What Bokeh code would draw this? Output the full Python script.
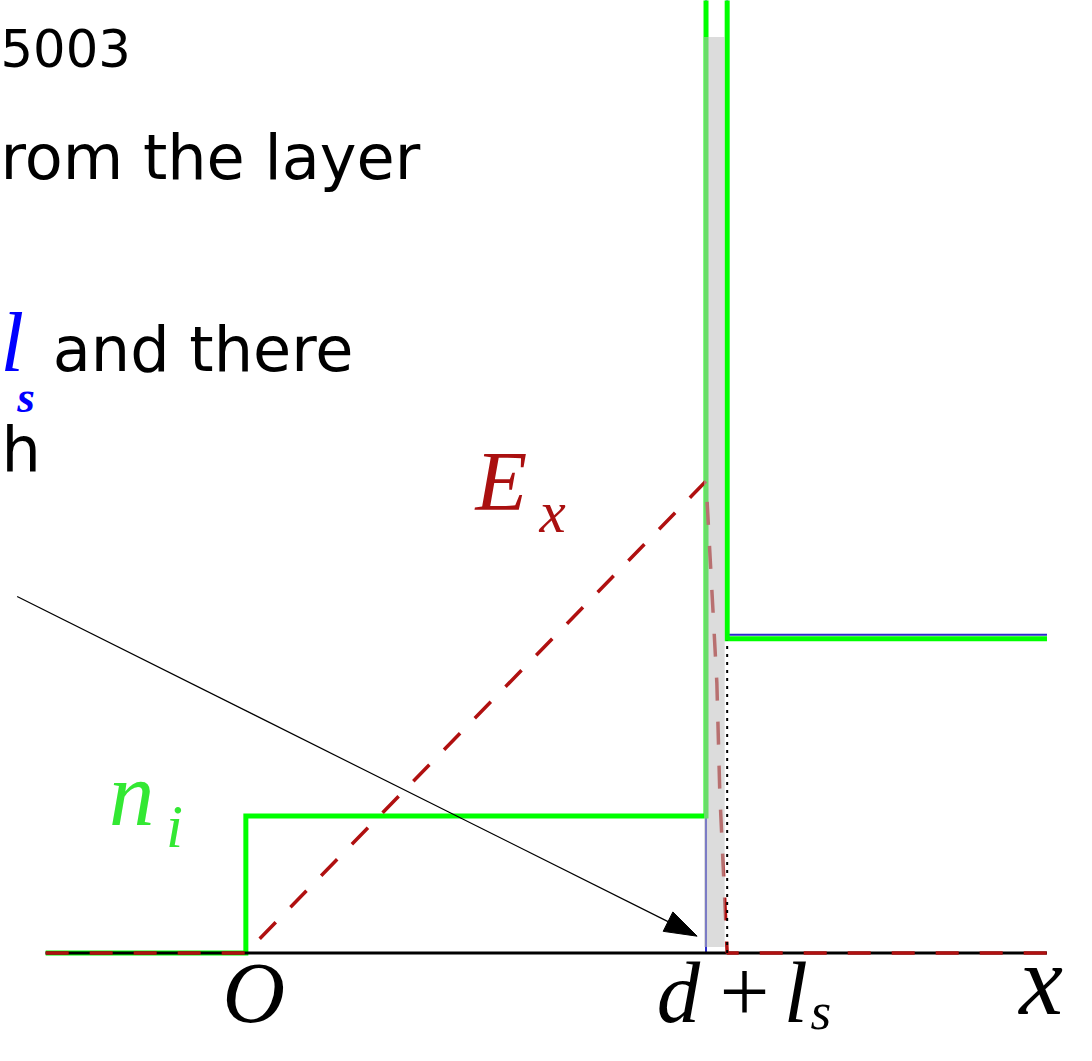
import math
from bokeh.plotting import figure
from bokeh.models import Range1d
from bokeh.core.properties import value
from bokeh.embed import file_html
from bokeh.resources import INLINE

# ---------------- data (normalised units: d = 1, n_i inside layer = 1) ----------------
d = 1.0
l_s = 0.046
x_left = -0.435
x_right = 1.741

# ion density n_i
ni_x = [x_left, 0.0, 0.0, d, d, d + l_s, d + l_s, x_right]
ni_y = [0.0, 0.0, 1.0, 1.0, 7.5, 7.5, 2.295, 2.295]

# electron density n_e
ne_x = [x_left, d, d, d + l_s, d + l_s, x_right]
ne_y = [0.0, 0.0, 7.5, 7.5, 2.324, 2.324]

# electric field E_x
ex_x = [x_left, 0.0, d, 1.0236, 1.030, d + l_s, x_right]
ex_y = [0.0, 0.0, 3.446, 1.97, 1.165, 0.0, 0.0]

# axis line
base_x = [x_left, x_right]
base_y = [0.0, 0.0]

# shaded sheath region
sheath_left = [0.9957]
sheath_right = [1.0407]
sheath_top = [6.69]
sheath_bottom = [0.043]

# dotted marker at d + l_s
dot_x = [d + l_s, d + l_s]
dot_y = [0.0, 2.28]

# arrow (start, end)
arrow_x = [-0.497, 0.9807]
arrow_y = [2.604, 0.1223]

# ---------------- figure ----------------
PX_X = 467.0   # reference pixels per x unit
PX_Y = 139.0   # reference pixels per y unit
X0_PX, Y0_PX = 249.0, 967.0
REF_W, REF_H = 1092.0, 1061.0
W, H = 1076, 1045
SCALE = W / REF_W

def dx(px):
    return (px - X0_PX) / PX_X

def dy(py):
    return (Y0_PX - py) / PX_Y

p = figure(width=W, height=H, output_backend="svg", toolbar_location=None,
           x_axis_location=None, y_axis_location=None, title=None,
           x_range=Range1d(dx(0), dx(REF_W)), y_range=Range1d(dy(REF_H), dy(0)),
           min_border=0)
p.min_border_left = p.min_border_right = p.min_border_top = p.min_border_bottom = 0
p.grid.visible = False
p.outline_line_color = None
p.background_fill_color = "white"
p.border_fill_color = "white"

GREEN = "#00ff00"
BLUE = "#2a2acc"
RED = "#b01010"

p.line(ne_x, ne_y, line_color=BLUE, line_width=2)
p.line(ni_x, ni_y, line_color=GREEN, line_width=5, line_join="miter")
p.line(base_x, base_y, line_color="black", line_width=3)
p.line(ex_x, ex_y, line_color=RED, line_width=3.5, line_dash="23 21")
p.quad(left=sheath_left, right=sheath_right, top=sheath_top, bottom=sheath_bottom,
       fill_color="#bfbfbf", fill_alpha=0.55, line_color=None)
p.line(dot_x, dot_y, line_color="black", line_width=2, line_dash="3 5")

# arrow: shaft + filled head computed in reference-pixel space
sx, sy = arrow_x[0] * PX_X, arrow_y[0] * PX_Y
ex, ey = arrow_x[1] * PX_X, arrow_y[1] * PX_Y
L = math.hypot(ex - sx, ey - sy)
ux, uy = (ex - sx) / L, (ey - sy) / L
head_len, head_w = 33.0, 22.0
bx, by = ex - ux * head_len, ey - uy * head_len
px_, py_ = -uy, ux
head_xs = [ex / PX_X, (bx + px_ * head_w / 2) / PX_X, (bx - px_ * head_w / 2) / PX_X]
head_ys = [ey / PX_Y, (by + py_ * head_w / 2) / PX_Y, (by - py_ * head_w / 2) / PX_Y]
p.line([arrow_x[0], bx / PX_X], [arrow_y[0], by / PX_Y], line_color="black", line_width=1.2)
p.patch(head_xs, head_ys, fill_color="black", line_color="black", line_width=1)

# ---------------- texts ----------------
BASE_FIX = 0.37  # renderer places the alphabetic baseline ~0.37 em low

def txt(s, xpx, ypx, size, color="black", font="DejaVu Sans", style="normal", align="left"):
    ypx = ypx - BASE_FIX * size
    p.text(x=[dx(xpx)], y=[dy(ypx)], text=[s], text_font=value(font),
           text_font_style=style, text_font_size=f"{size * SCALE:.1f}px", text_color=color,
           text_align=align, text_baseline="alphabetic")

txt("5003", 0, 67, 52)
txt("rom the layer", 0, 183, 63)
txt("and there", 53, 378, 63)
txt("h", 1, 479, 63)
txt("l", 0, 379, 86, color="#0000ff", font="Liberation Serif", style="italic")
txt("s", 17, 420, 46, color="#0000ff", font="Liberation Serif", style="bold italic")

SERIF = "Liberation Serif"
txt("n", 110, 840, 92, color="#33e833", font=SERIF, style="italic")
txt("i", 168, 862, 62, color="#33e833", font=SERIF, style="italic")
txt("E", 482, 520, 86, color="#aa1010", font=SERIF, style="italic")
txt("x", 547, 542, 60, color="#aa1010", font=SERIF, style="italic")
txt("O", 257, 1040, 88, font=SERIF, style="italic", align="center")
txt("d", 666, 1040, 88, font=SERIF, style="italic")
txt("+", 755, 1040, 90, font=SERIF, align="center")
txt("l", 795, 1040, 88, font=SERIF, style="italic")
txt("s", 822, 1046, 54, font=SERIF, style="italic")
txt("x", 1056, 1032, 100, font=SERIF, style="italic", align="center")

open("out.html", "w").write(file_html(p, INLINE))
